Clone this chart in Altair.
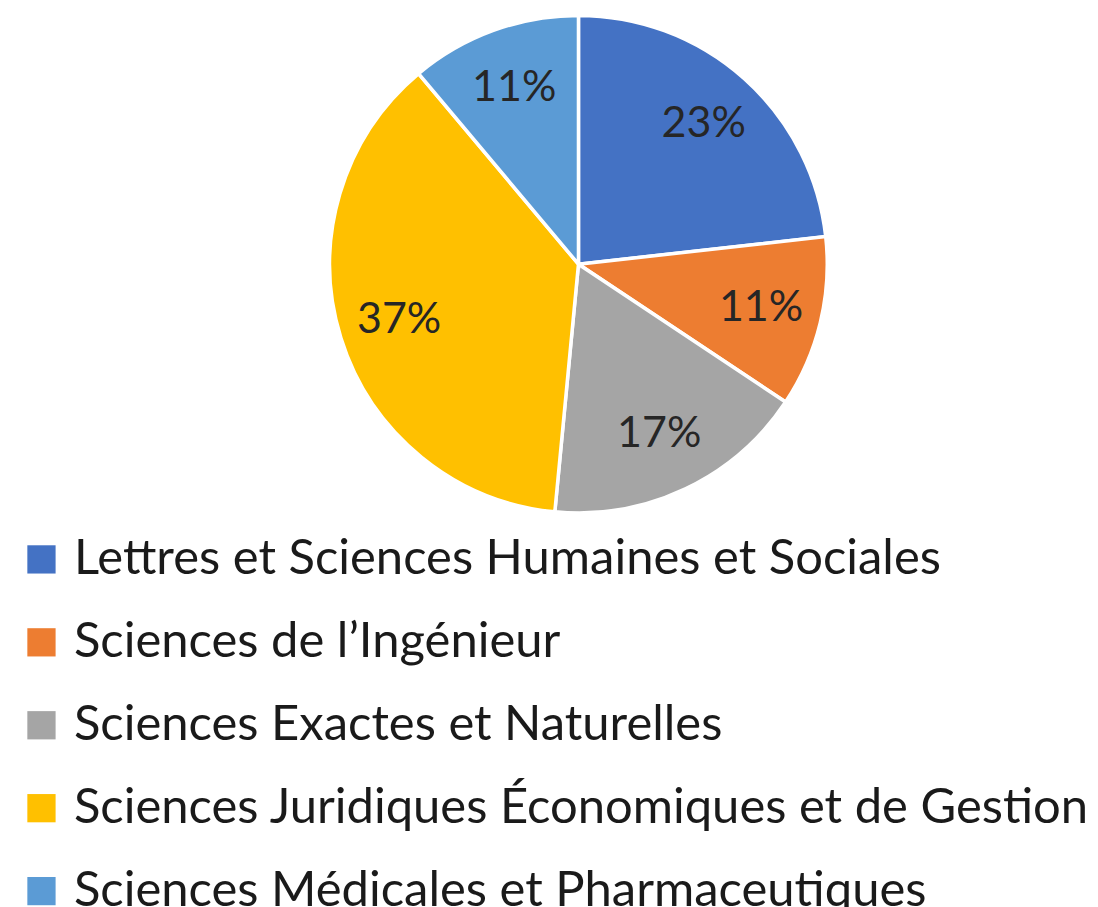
import altair as alt
import pandas as pd

categories = [
    "Lettres et Sciences Humaines et Sociales",
    "Sciences de l’Ingénieur",
    "Sciences Exactes et Naturelles",
    "Sciences Juridiques Économiques et de Gestion",
    "Sciences Médicales et Pharmaceutiques",
]
values = [23, 11, 17, 37, 11]
labels = ["23%", "11%", "17%", "37%", "11%"]
colors = ["#4472C4", "#ED7D31", "#A5A5A5", "#FFC000", "#5B9BD5"]

df = pd.DataFrame({
    "category": categories,
    "value": values,
    "label": labels,
    "order": list(range(len(categories))),
})

FONT = "Lato"

base = alt.Chart(df).encode(
    theta=alt.Theta("value:Q", stack=True),
    order=alt.Order("order:Q"),
)

pie = base.mark_arc(outerRadius=249, stroke="white", strokeWidth=3.5).encode(
    x=alt.value(571),
    y=alt.value(251),
    color=alt.Color(
        "category:N",
        sort=categories,
        scale=alt.Scale(domain=categories, range=colors),
        legend=alt.Legend(
            title=None,
            orient="none",
            legendX=9,
            legendY=522,
            padding=0,
            symbolType="square",
            symbolSize=800,
            symbolStrokeWidth=0,
            symbolOpacity=1,
            labelFont=FONT,
            labelFontSize=49,
            labelColor="#1a1a1a",
            labelLimit=0,
            labelOffset=8,
            rowPadding=33,
        ),
    ),
)

text = base.mark_text(radius=188, font=FONT, fontSize=43, color="#262626").encode(
    text="label:N", x=alt.value(571), y=alt.value(251)
)

chart = (
    alt.layer(pie, text)
    .properties(width=1082, height=891, padding=0)
    .configure_view(stroke=None)
)

chart.save("out.html", embed_options={"renderer": "svg", "actions": False})
